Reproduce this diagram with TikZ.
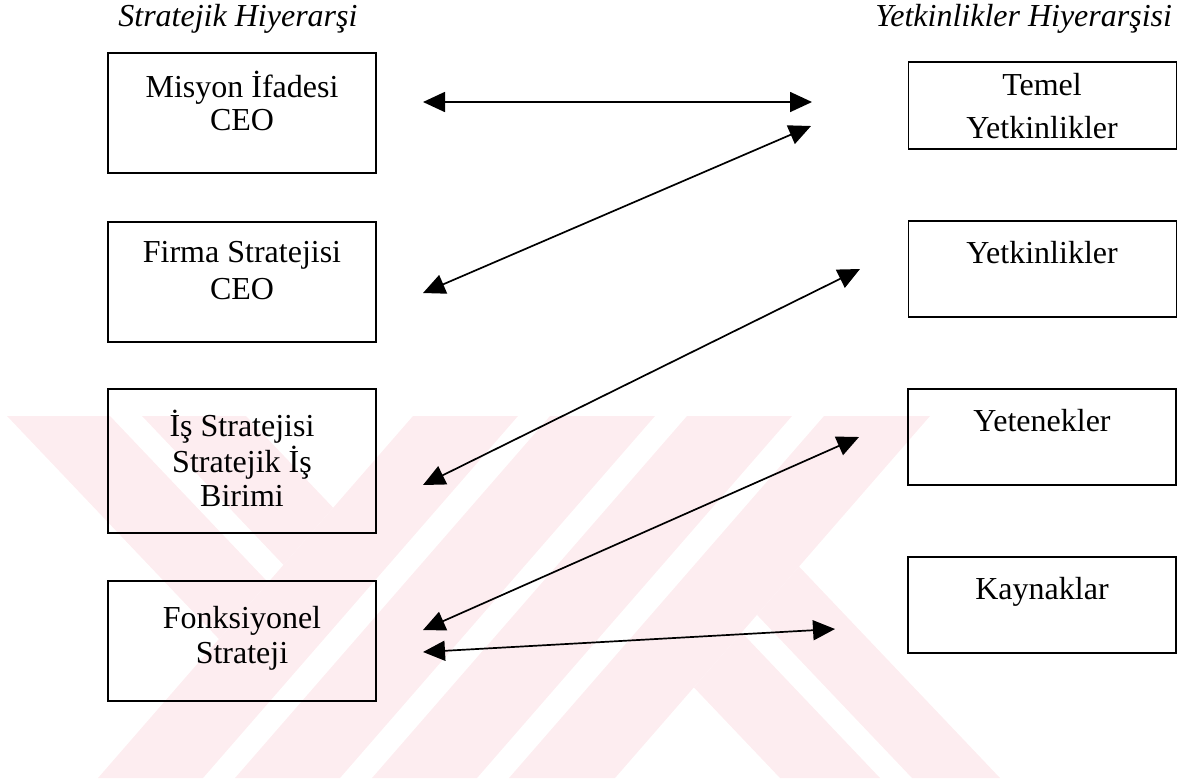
\documentclass[tikz,border=0pt]{standalone}
\usepackage{fontspec}
\setmainfont{Liberation Serif}
\usetikzlibrary{arrows.meta}
\definecolor{wm}{RGB}{253,237,240}
\begin{document}
\begin{tikzpicture}[x=0.5pt,y=-0.5pt,
 box/.style={draw, line width=0.9pt, minimum width=134pt, inner sep=0pt},
 lbl/.style={font=\fontsize{16}{16.5}\selectfont, align=center, anchor=base, inner sep=0pt},
 ttl/.style={font=\fontsize{16}{19}\selectfont\itshape, anchor=base west, inner sep=0pt},
 dbl/.style={line width=0.85pt, {Triangle[length=11pt,width=10pt]}-{Triangle[length=11pt,width=10pt]}}]
\useasboundingbox (0,0) rectangle (1192,783);
% watermark
\begin{scope}
\clip (0,416) rectangle (1192,778);
\fill[wm] (413,416) -- (518,416) -- (203,778) -- (98,778) -- cycle;
\fill[wm] (550,416) -- (655,416) -- (340,778) -- (235,778) -- cycle;
\fill[wm] (687,416) -- (792,416) -- (477,778) -- (372,778) -- cycle;
\fill[wm] (824,416) -- (930,416) -- (615,778) -- (509,778) -- cycle;
\begin{scope}
\clip (0,416) -- (413,416) -- (98,778) -- (0,778) -- cycle;
\fill[wm] (7,416) -- (110,416) -- (454,778) -- (351,778) -- cycle;
\fill[wm] (142,416) -- (246,416) -- (590,778) -- (486,778) -- cycle;
\end{scope}
\begin{scope}
\clip (930,416) -- (1192,416) -- (1192,778) -- (615,778) -- cycle;
\fill[wm] (436,416) -- (536,416) -- (880,778) -- (780,778) -- cycle;
\fill[wm] (568,416) -- (656,416) -- (1000,778) -- (912,778) -- cycle;
\end{scope}
\end{scope}
% titles
\node[ttl] (tl) at (118,26) {Stratejik Hiyerarşi};
\node[ttl] (tr) at (875,26) {Yetkinlikler Hiyerarşisi};
% left boxes
\node[box, minimum height=60pt] (m) at (242,113) {};
\node[box, minimum height=60pt] (f) at (242,282) {};
\node[box, minimum height=72pt] (i) at (242,461) {};
\node[box, minimum height=60pt] (k) at (242,641) {};
\node[lbl] (mt) at (242,130) {Misyon İfadesi\\CEO};
\node[lbl] (ft) at (242,299) {Firma Stratejisi\\[2pt]CEO};
\node[lbl] (it) at (242,506) {İş Stratejisi\\[0.3pt]Stratejik İş\\[0.3pt]Birimi};
\node[lbl] (kt) at (242,663) {Fonksiyonel\\[1pt]Strateji};
% right boxes
\node[box, minimum height=43.5pt] (tm) at (1042.5,105.5) {};
\node[box, minimum height=48pt] (yk) at (1042.5,269) {};
\node[box, minimum height=48pt] (yt) at (1042,437) {};
\node[box, minimum height=48pt] (ky) at (1042,605) {};
\node[lbl] (tmt) at (1042,138) {Temel\\[5pt]Yetkinlikler};
\node[lbl] (ykt) at (1042,263) {Yetkinlikler};
\node[lbl] (ytt) at (1042,431) {Yetenekler};
\node[lbl] (kyt) at (1042,599) {Kaynaklar};
% arrow ends
\coordinate (a1l) at (423,102); \coordinate (a1r) at (812,102);
\coordinate (a2l) at (423,293); \coordinate (a2r) at (811,126);
\coordinate (a3l) at (423,485); \coordinate (a3r) at (860,269);
\coordinate (a4l) at (423,630); \coordinate (a4r) at (859,437);
\coordinate (a5l) at (423,652); \coordinate (a5r) at (835,629);
\draw[dbl] (a1l) -- (a1r);
\draw[dbl] (a2l) -- (a2r);
\draw[dbl] (a3l) -- (a3r);
\draw[dbl] (a4l) -- (a4r);
\draw[dbl] (a5l) -- (a5r);
\end{tikzpicture}
\end{document}
